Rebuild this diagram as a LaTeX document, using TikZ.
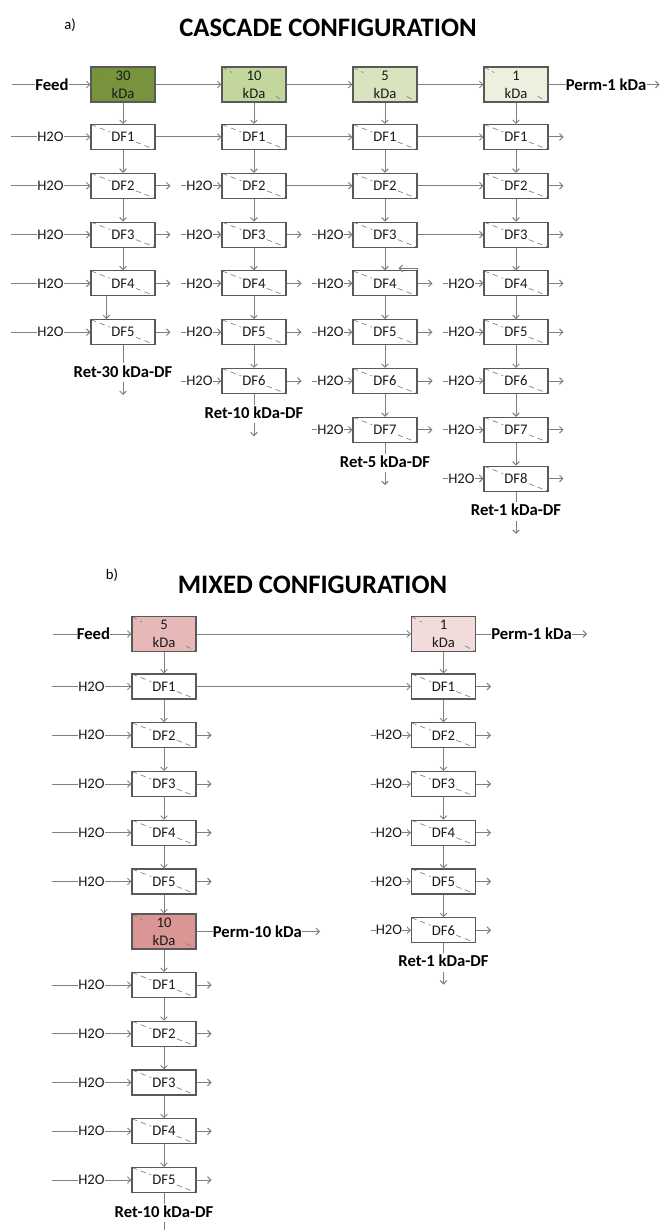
\documentclass[tikz,border=0pt]{standalone}
\usepackage{fontspec}
\setmainfont{Carlito}
\usepackage{tikz}
\usetikzlibrary{arrows.meta,calc,positioning}
\definecolor{MemOlA}{HTML}{77933C}
\definecolor{MemOlB}{HTML}{C3D69B}
\definecolor{MemOlC}{HTML}{D7E4BD}
\definecolor{MemOlD}{HTML}{EBF1DE}
\definecolor{MemRdA}{HTML}{E6B9B8}
\definecolor{MemRdB}{HTML}{F2DCDB}
\definecolor{MemRdC}{HTML}{D99694}
\definecolor{BoxEdge}{HTML}{595959}
\definecolor{PipeGray}{HTML}{7F7F7F}
\definecolor{LabelInk}{HTML}{1A1A1A}

\begin{document}
\begin{tikzpicture}[
  x=0.75pt,y=-0.75pt,
  font=\fontsize{11}{13.5}\selectfont,
  mcut/.style={path picture={\draw[PipeGray,line width=0.5pt,dash pattern=on 4pt off 3pt]
    (path picture bounding box.north west) -- ($(path picture bounding box.north west)!{#1}!(path picture bounding box.south east)$)
    ($(path picture bounding box.north west)!{1-#1}!(path picture bounding box.south east)$) -- (path picture bounding box.south east);}},
  mem/.style={rectangle,draw=BoxEdge,line width=0.8pt,minimum width=48pt,minimum height=26.25pt,inner sep=0pt,align=center,text=LabelInk,mcut=0.16},
  df/.style={rectangle,draw=BoxEdge,line width=0.8pt,fill=white,minimum width=48pt,minimum height=18.75pt,inner sep=0pt,text=LabelInk,mcut=0.3},
  water/.style={inner sep=0pt,text=LabelInk},
  tag/.style={inner sep=0pt,font=\bfseries\fontsize{12.5}{14}\selectfont},
  ret/.style={tag,text height=10pt,text depth=3.5pt},
  title/.style={font=\bfseries\fontsize{20}{24}\selectfont},
  pipe/.style={draw=PipeGray,line width=0.75pt},
  flow/.style={pipe,-{Straight Barb[length=2.5pt,width=5pt]}}
]
\useasboundingbox (0,0) rectangle (669,1230);

% titles
\node (pa) at (70,25) {a)};
\node[title] (tA) at (328,28) {CASCADE CONFIGURATION};
\node (pb) at (112,575) {b)};
\node[title] (tB) at (312.5,585) {MIXED CONFIGURATION};

% ---- cascade configuration ----
\foreach \c/\lab/\col/\n in {1/30/MemOlA/5,2/10/MemOlB/6,3/5/MemOlC/7,4/1/MemOlD/8} {
  \node[mem,fill=\col] (am\c) at ({123+131*(\c-1)},84.5) {\lab\\kDa};
  \foreach \k in {1,...,\n}
    \node[df] (a\c-\k) at ({123+131*(\c-1)},{137+48.8*(\k-1)}) {DF\k};
}

\node[tag] (feedA) at (52,84.5) {Feed};
\coordinate (feedA-in) at (12,84.5);
\draw[pipe] (feedA-in) -- (feedA.west);
\draw[flow] (feedA.east) -- (am1.west);
\foreach \c [count=\p] in {2,3,4}
  \draw[flow] (am\p.east) -- (am\c.west);
\node[tag,right=12.75pt of am4] (permA) {Perm-1 kDa};
\coordinate[right=9.75pt of permA] (permA-out);
\draw[pipe] (am4.east) -- (permA.west);
\draw[flow] (permA.east) -- (permA-out);

% vertical retentate chain
\foreach \c/\n in {1/5,2/6,3/7,4/8} {
  \draw[flow] (am\c) -- (a\c-1);
  \foreach \k [count=\j from 2] in {1,...,\n} {
    \pgfmathtruncatemacro\skip{(\j>\n)||((\c==1)&&(\k==4))}
    \ifnum\skip=0\relax
      \draw[flow] (a\c-\k) -- (a\c-\j);
    \fi
  }
}
\draw[flow] ($(a1-4.south west)+(16,0)$) -- ($(a1-5.north west)+(16,0)$);

% water inlets, cross feeds and permeate outlets
\foreach \c/\n in {1/5,2/6,3/7,4/8} {
  \foreach \k in {1,...,\n} {
    \ifnum\k<\c\relax
      \pgfmathtruncatemacro\p{\c-1}
      \draw[flow] (a\p-\k.east) -- (a\c-\k.west);
    \else
      \ifnum\c=1\relax
        \node[water] (aw\c-\k) at ($(a\c-\k.west)+(-40,0)$) {H2O};
        \coordinate (aw\c-\k-in) at ($(aw\c-\k.west)+(-26,0)$);
      \else
        \node[water] (aw\c-\k) at ($(a\c-\k.west)+(-22,0)$) {H2O};
        \coordinate (aw\c-\k-in) at ($(aw\c-\k.west)+(-5,0)$);
      \fi
      \draw[pipe] (aw\c-\k-in) -- (aw\c-\k.west);
      \draw[flow] (aw\c-\k.east) -- (a\c-\k.west);
    \fi
    \pgfmathtruncatemacro\isout{(\c==4)||(\k>\c)}
    \ifnum\isout=1\relax
      \coordinate (a\c-\k-out) at ($(a\c-\k.east)+(15,0)$);
      \draw[flow] (a\c-\k.east) -- (a\c-\k-out);
    \fi
  }
}

\coordinate (kinkA) at ($(a3-4.north east)+(0,-2)$);
\coordinate (kinkB) at ($(kinkA)+(-19,0)$);
\draw[flow] (a3-4.north east) -- (kinkA) -- (kinkB);

\foreach \c/\n/\lab/\dy in {1/5/30/27.5,2/6/10/20,3/7/5/20,4/8/1/20} {
  \node[ret] (ar\c) at ($(a\c-\n.south)+(0,\dy)$) {Ret-\lab\ kDa-DF};
  \coordinate (ar\c-out) at ($(ar\c.south)+(0,13)$);
  \draw[pipe] (a\c-\n) -- (ar\c);
  \draw[flow] (ar\c) -- (ar\c-out);
}

% ---- mixed configuration ----
\node[mem,fill=MemRdA] (bm5) at (164,634) {5\\kDa};
\node[mem,fill=MemRdB] (bm1) at (443.5,634) {1\\kDa};
\node[mem,fill=MemRdC] (bm10) at (164,931.5) {10\\kDa};
\foreach \k in {1,...,5} {
  \node[df] (b1-\k) at (164,{686.5+48.75*(\k-1)}) {DF\k};
  \node[df] (b3-\k) at (164,{985+48.75*(\k-1)}) {DF\k};
}
\foreach \k in {1,...,6}
  \node[df] (b2-\k) at (443.5,{686.5+48.75*(\k-1)}) {DF\k};

\node[tag] (feedB) at (93.5,634) {Feed};
\coordinate (feedB-in) at (53,634);
\draw[pipe] (feedB-in) -- (feedB.west);
\draw[flow] (feedB.east) -- (bm5.west);
\draw[flow] (bm5.east) -- (bm1.west);
\draw[flow] (b1-1.east) -- (b2-1.west);

\node[tag,right=11.25pt of bm1] (permB) {Perm-1 kDa};
\coordinate[right=11.25pt of permB] (permB-out);
\draw[pipe] (bm1.east) -- (permB.west);
\draw[flow] (permB.east) -- (permB-out);
\node[tag,right=12pt of bm10] (permC) {Perm-10 kDa};
\coordinate[right=13.5pt of permC] (permC-out);
\draw[pipe] (bm10.east) -- (permC.west);
\draw[flow] (permC.east) -- (permC-out);

% vertical chains
\draw[flow] (bm5) -- (b1-1);
\draw[flow] (b1-5) -- (bm10);
\draw[flow] (bm10) -- (b3-1);
\draw[flow] (bm1) -- (b2-1);
\foreach \k [count=\j from 2] in {1,...,4} {
  \draw[flow] (b1-\k) -- (b1-\j);
  \draw[flow] (b3-\k) -- (b3-\j);
}
\foreach \k [count=\j from 2] in {1,...,5}
  \draw[flow] (b2-\k) -- (b2-\j);

% water inlets and permeate outlets
\foreach \s in {1,3} {
  \foreach \k in {1,...,5} {
    \node[water] (bw\s-\k) at ($(b\s-\k.west)+(-40,0)$) {H2O};
    \coordinate (bw\s-\k-in) at ($(bw\s-\k.west)+(-26,0)$);
    \draw[pipe] (bw\s-\k-in) -- (bw\s-\k.west);
    \draw[flow] (bw\s-\k.east) -- (b\s-\k.west);
  }
}
\foreach \k in {2,...,6} {
  \node[water] (bw2-\k) at ($(b2-\k.west)+(-22,0)$) {H2O};
  \coordinate (bw2-\k-in) at ($(bw2-\k.west)+(-5,0)$);
  \draw[pipe] (bw2-\k-in) -- (bw2-\k.west);
  \draw[flow] (bw2-\k.east) -- (b2-\k.west);
}
\foreach \s/\ks in {1/{2,...,5},3/{1,...,5},2/{1,...,6}} {
  \foreach \k in \ks {
    \coordinate (b\s-\k-out) at ($(b\s-\k.east)+(15,0)$);
    \draw[flow] (b\s-\k.east) -- (b\s-\k-out);
  }
}

\node[ret] (br3) at ($(b3-5.south)+(0,20)$) {Ret-10 kDa-DF};
\coordinate (br3-out) at ($(br3.south)+(0,13)$);
\draw[pipe] (b3-5) -- (br3);
\draw[flow] (br3) -- (br3-out);
\node[ret] (br2) at ($(b2-6.south)+(0,19)$) {Ret-1 kDa-DF};
\coordinate (br2-out) at ($(br2.south)+(0,13)$);
\draw[pipe] (b2-6) -- (br2);
\draw[flow] (br2) -- (br2-out);
\end{tikzpicture}
\end{document}
